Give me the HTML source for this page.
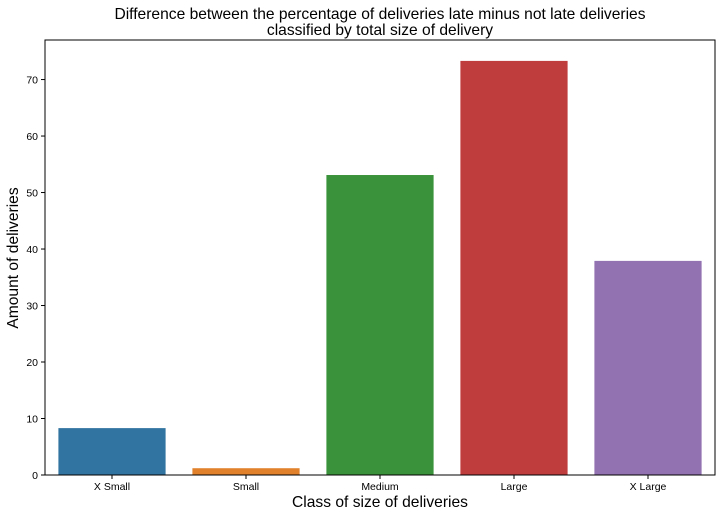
<!DOCTYPE html>
<html><head><meta charset="utf-8"><style>
body{margin:0;background:#fff;font-family:"Liberation Sans",sans-serif}
</style></head><body>
<svg id="chart" width="721" height="517" xmlns="http://www.w3.org/2000/svg" font-family="Liberation Sans, sans-serif">
<text x="380" y="19" text-anchor="middle" font-size="15.6" fill="#000">Difference between the percentage of deliveries late minus not late deliveries</text>
<text x="380" y="35" text-anchor="middle" font-size="15.6" fill="#000">classified by total size of delivery</text>
<g id="plot"></g>
<text x="380" y="507" text-anchor="middle" font-size="15.6">Class of size of deliveries</text>
<text transform="translate(18,258) rotate(-90)" text-anchor="middle" font-size="15.6">Amount of deliveries</text>
</svg>
<script>
const categories=["X Small","Small","Medium","Large","X Large"];
const values=[8.3,1.2,53.1,73.3,37.9];
const colors=["#3274a1","#e1812c","#3a923a","#c03d3e","#9372b2"];
const yTicks=[0,10,20,30,40,50,60,70];
const L=45,R=715,T=40,B=475,yMax=77;
const NS="http://www.w3.org/2000/svg";
const g=document.getElementById('plot');
const y=v=>B-(v/yMax)*(B-T);
const slot=(R-L)/categories.length;
const x=i=>L+slot*i;
function mk(t,a){const e=document.createElementNS(NS,t);for(const k in a)e.setAttribute(k,a[k]);g.appendChild(e);return e;}
values.forEach((v,i)=>{
 const r=mk('rect',{x:x(i)+slot*0.1,y:y(v),width:slot*0.8,height:B-y(v),fill:colors[i]});
 
 
 const tk=mk('line',{x1:x(i)+slot/2,x2:x(i)+slot/2,y1:B,y2:B+4,stroke:'#000'});
 
 
 const t=mk('text',{x:x(i)+slot/2,y:B+15,'text-anchor':'middle','font-size':'10.5'});
 t.textContent=categories[i];
 
 
});
yTicks.forEach(v=>{
 const tk=mk('line',{x1:L-4,x2:L,y1:y(v),y2:y(v),stroke:'#000'});
 
 
 const t=mk('text',{x:L-7,y:y(v)+4,'text-anchor':'end','font-size':'10.5'});
 t.textContent=v;
 
 
});
const f=mk('rect',{x:L,y:T,width:R-L,height:B-T,fill:'none',stroke:'#000','stroke-width':1});


</script>
</body></html>
